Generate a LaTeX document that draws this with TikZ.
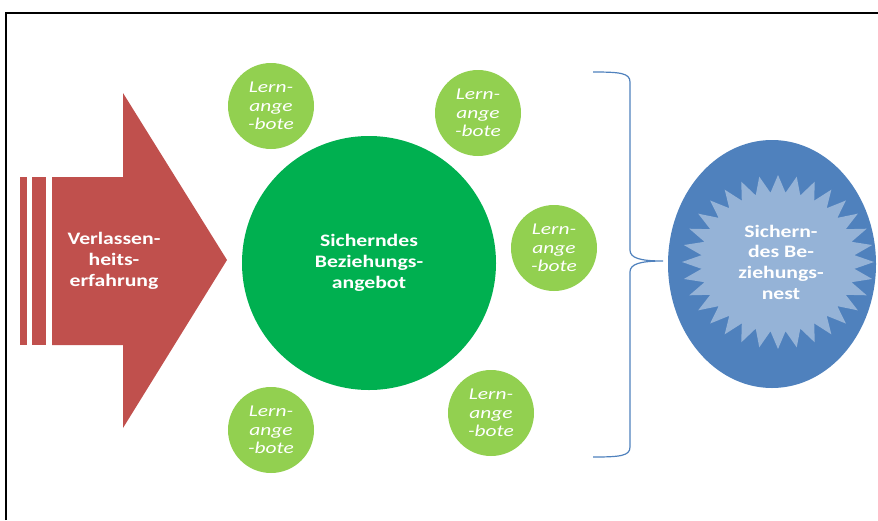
\documentclass[tikz,border=0pt]{standalone}
\usepackage{fontspec}
\setmainfont{Carlito}
\newfontfamily\widefont[FakeStretch=1.24]{Carlito}
\newfontfamily\wideitfont[FakeStretch=1.3]{Carlito}
\usetikzlibrary{shapes.geometric}
\definecolor{arrowred}{HTML}{C0504D}
\definecolor{biggreen}{HTML}{00B050}
\definecolor{lightgreen}{HTML}{92D050}
\definecolor{nestblue}{HTML}{4F81BD}
\definecolor{starblue}{HTML}{95B3D7}
\tikzset{
  lern/.style={circle, fill=lightgreen, minimum size=86pt, inner sep=0pt, text=white, align=center,
    font=\wideitfont\itshape\fontsize{16.5}{18.5}\selectfont},
  bigtext/.style={text=white, align=center, font=\widefont\bfseries\fontsize{17.5}{20.7}\selectfont},
}
\begin{document}
\begin{tikzpicture}[x=1pt,y=-1pt]
\useasboundingbox (0,0) rectangle (878,520);
\draw[line width=1.3pt] (6,520) -- (6,13) -- (878,13);
% arrow
\fill[arrowred] (20,177) rectangle (27,345);
\fill[arrowred] (32,177) rectangle (46,345);
\fill[arrowred] (52,177) -- (123,177) -- (123,93) -- (227,260) -- (123,428) -- (123,345) -- (52,345) -- cycle;
\node[bigtext] (arrowtext) at (114,261) {Verlassen-\\heits-\\erfahrung};
% big circle
\node[circle, fill=biggreen, minimum size=254pt, inner sep=0pt, bigtext] (big) at (369,263) {Sicherndes\\Beziehungs-\\angebot};
% small circles
\node[lern] (l1) at (271,106) {Lern-\\ange\\-bote};
\node[lern] (l2) at (478,113) {Lern-\\ange\\-bote};
\node[lern] (l3) at (554,248) {Lern-\\ange\\-bote};
\node[lern] (l4) at (491,413) {Lern-\\ange\\-bote};
\node[lern] (l5) at (271,430) {Lern-\\ange\\-bote};
% brace
\draw[nestblue, line width=1.2pt] (593,72) .. controls (620,72) and (630,73) .. (630,82)
  -- (630,250) .. controls (630,258) and (640,261) .. (663,261)
  .. controls (640,261) and (630,264) .. (630,272)
  -- (630,447) .. controls (630,456) and (620,457) .. (593,457);
% nest ellipse
\node[ellipse, fill=nestblue, minimum width=208pt, minimum height=248pt, inner sep=0pt] (nest) at (772,264) {};
\fill[starblue] (874,262)
  \foreach \i [evaluate=\i as \r using {mod(\i,2)==0?1:0.8}] in {1,...,63} {
    -- ({778+96*\r*cos(\i*5.625)},{262+87*\r*sin(\i*5.625)})
  } -- cycle;
\node[bigtext] (nesttext) at (781,262) {Sichern-\\des Be-\\ziehungs-\\nest};
\end{tikzpicture}
\end{document}
